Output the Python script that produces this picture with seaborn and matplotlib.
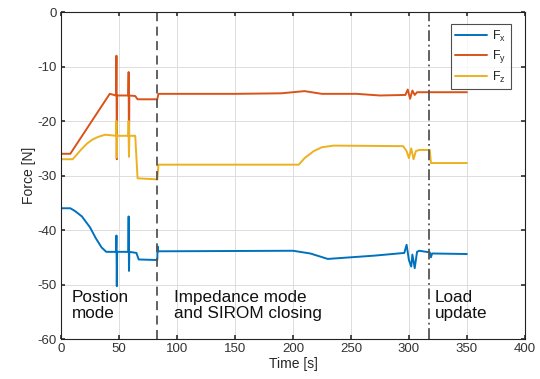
import matplotlib
matplotlib.use("Agg")
import matplotlib.pyplot as plt
import seaborn as sns
import pandas as pd

# Fx
fx_t = [0, 8, 12, 18, 25, 30, 35, 39, 47.5, 47.8, 48.1, 48.4, 58, 58.3, 58.6, 58.9, 65, 67, 83, 83.3, 83.8,
        200, 215, 230, 250, 270, 296, 298, 300, 302, 303, 305, 307, 309, 318, 319, 320, 350]
fx_v = [-36, -36, -36.5, -37.5, -39.5, -41.5, -43.2, -44, -44, -41, -50.3, -44, -44, -37.5, -47.5, -44, -44.2, -45.4, -45.5, -43, -43.9,
        -43.8, -44.3, -45.3, -45, -44.7, -44.2, -42.7, -45.5, -46.7, -44.5, -47, -44, -43.8, -44.1, -45, -44.3, -44.4]
# Fy
fy_t = [0, 8, 42, 47.5, 47.8, 48.1, 48.4, 58, 58.3, 58.6, 58.9, 64, 66, 83, 84,
        150, 190, 210, 225, 255, 275, 297, 299, 301, 303, 305, 307, 350]
fy_v = [-26, -26, -15, -15.3, -8, -27, -15.3, -15.3, -11, -26.5, -15.3, -15.4, -16, -16, -15,
        -15, -14.9, -14.5, -15, -15, -15.3, -15.2, -14.2, -15.9, -14.4, -15.2, -14.7, -14.7]
# Fz
fz_t = [0, 10, 13, 17, 22, 27, 32, 38, 47.5, 47.8, 48.1, 48.4, 58, 58.3, 58.6, 58.9, 64, 66, 83, 84,
        150, 205, 210, 218, 225, 235, 295, 298, 300, 302, 304, 306, 309, 318, 319, 350]
fz_v = [-27, -27, -26.3, -25.3, -24.2, -23.4, -22.9, -22.5, -22.7, -20, -26.7, -22.7, -22.7, -20, -26.5, -22.7, -22.7, -30.5, -30.7, -28,
        -28, -28, -26.8, -25.5, -24.8, -24.5, -24.6, -25.5, -26.8, -25, -27, -25.5, -25.3, -25.3, -27.7, -27.7]

series_names = ["F$_\\mathregular{x}$", "F$_\\mathregular{y}$", "F$_\\mathregular{z}$"]
colors = ["#0072BD", "#D95319", "#EDB120"]
mode_switch = [83, 317]
annotations = [(9, "Postion\nmode"), (97, "Impedance mode\nand SIROM closing"), (322, "Load\nupdate")]

sns.set_theme(style="whitegrid")
plt.rcParams["font.family"] = ["Liberation Sans", "DejaVu Sans"]
plt.rcParams["axes.unicode_minus"] = False
plt.rcParams["mathtext.fontset"] = "custom"
plt.rcParams["mathtext.rm"] = "Liberation Sans"

fig = plt.figure(figsize=(5.4, 3.79), dpi=100)
ax = fig.add_axes([0.113, 0.1055, 0.859, 0.8625])

for t, v, name, c in zip([fx_t, fy_t, fz_t], [fx_v, fy_v, fz_v], series_names, colors):
    df = pd.DataFrame({"t": t, "v": v})
    sns.lineplot(data=df, x="t", y="v", ax=ax, sort=False, estimator=None, color=c, lw=1.4, label=name)

ax.axvline(mode_switch[0], color="#555555", ls=(0, (5, 3)), lw=1.3)
ax.axvline(mode_switch[1], color="#555555", ls=(0, (6, 2, 1, 2)), lw=1.3)

for x, s in annotations:
    ax.text(x, -51.0, s, fontsize=12.3, va="top", ha="left", color="#111111", linespacing=1.1)

ax.set_xlim(0, 400)
ax.set_ylim(-60, 0)
ax.set_xticks(range(0, 401, 50))
ax.set_yticks(range(-60, 1, 10))
ax.set_xlabel("Time [s]", fontsize=10, labelpad=1)
ax.set_ylabel("Force [N]", fontsize=10, labelpad=1)
ax.set_facecolor("white")
ax.grid(True, color="#DDDDDD", lw=0.7)
for sp in ax.spines.values():
    sp.set_color("#222222")
    sp.set_linewidth(0.8)
ax.tick_params(axis="both", labelsize=9.5, colors="#333333", direction="in", length=3, pad=3,
               top=True, right=True, bottom=True, left=True)
leg = ax.legend(loc="upper right", bbox_to_anchor=(0.97, 0.963), borderaxespad=0, fontsize=9,
                frameon=True, fancybox=False, edgecolor="#222222", handlelength=2.6, borderpad=0.35,
                labelspacing=0.35, handletextpad=0.4)
leg.get_frame().set_linewidth(0.8)
fig.savefig("out.png", dpi=100)
